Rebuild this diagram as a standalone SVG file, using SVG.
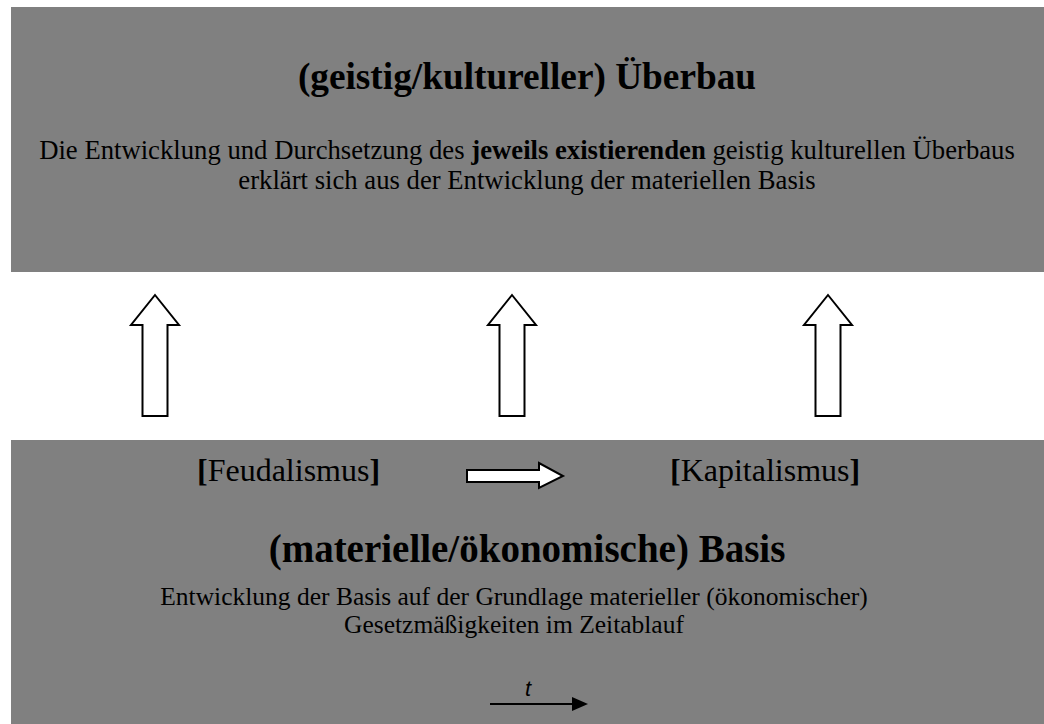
<svg xmlns="http://www.w3.org/2000/svg" width="1044" height="724" viewBox="0 0 1044 724">
<style>
.box{fill:#808080;stroke:none}
.t{font-family:"Liberation Serif","Times New Roman",serif;fill:#000}
.b{font-weight:bold}
.blk{fill:#fff;stroke:#000;stroke-width:2;stroke-linejoin:miter}
.ln{stroke:#000;stroke-width:2;fill:none}
</style>
<defs>
<path id="up" d="M0,-121 L24,-91 L12.5,-91 L12.5,0 L-12.5,0 L-12.5,-91 L-24,-91 Z"/>
</defs>
<rect width="1044" height="724" fill="#fff"/>
<g id="ueberbau">
<rect class="box" x="11" y="7" width="1033" height="265"/>
<text class="t b" x="527" y="89" font-size="37.3" text-anchor="middle">(geistig/kultureller) Überbau</text>
<text class="t" x="527" y="159" font-size="26.7" text-anchor="middle">Die Entwicklung und Durchsetzung des <tspan font-weight="bold">jeweils existierenden</tspan> geistig kulturellen Überbaus</text>
<text class="t" x="527" y="189" font-size="26.7" text-anchor="middle">erklärt sich aus der Entwicklung der materiellen Basis</text>
</g>
<g id="basis">
<rect class="box" x="11" y="440" width="1033" height="284"/>
<text class="t" x="197" y="481" font-size="32"><tspan font-weight="bold">[</tspan>Feudalismus<tspan font-weight="bold">]</tspan></text>
<text class="t" x="670" y="481" font-size="32"><tspan font-weight="bold">[</tspan>Kapitalismus<tspan font-weight="bold">]</tspan></text>
<text class="t b" x="527" y="562" font-size="39" text-anchor="middle">(materielle/ökonomische) Basis</text>
<text class="t" x="514" y="605" font-size="25.5" text-anchor="middle">Entwicklung der Basis auf der Grundlage materieller (ökonomischer)</text>
<text class="t" x="514" y="633" font-size="25.5" text-anchor="middle">Gesetzmäßigkeiten im Zeitablauf</text>
<text x="528" y="696" font-size="22" font-style="italic" font-family="Liberation Sans, Arial, sans-serif" text-anchor="middle">t</text>
</g>
<g id="connectors">
<use href="#up" class="blk" x="155" y="416"/>
<use href="#up" class="blk" x="512" y="416"/>
<use href="#up" class="blk" x="828" y="416"/>
<path class="blk" d="M467,470 L539,470 L539,463 L563,476 L539,488 L539,482 L467,482 Z"/>
<line class="ln" x1="490" y1="704" x2="574" y2="704"/>
<path d="M572,697 L588,704 L572,711 Z" fill="#000"/>
</g>
</svg>
